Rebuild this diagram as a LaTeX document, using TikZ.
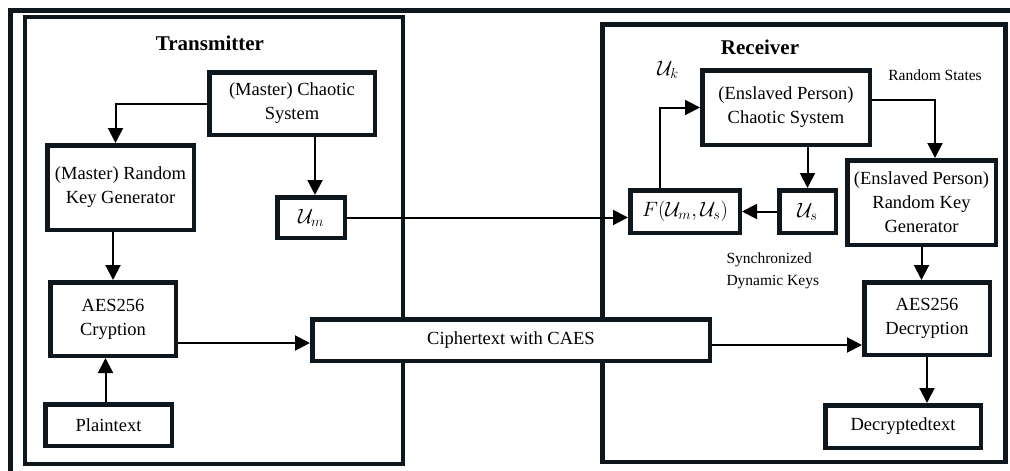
\documentclass[tikz,border=0pt]{standalone}
\usepackage{fontspec}
\setmainfont{Liberation Serif}
\usetikzlibrary{arrows.meta}
\definecolor{frm}{RGB}{14,22,30}
\begin{document}
\begin{tikzpicture}[x=1pt,y=-1pt,
  box/.style={draw=frm,line width=4.5pt,fill=white,align=center,inner sep=0pt,
    font=\fontsize{18.5}{24}\selectfont},
  mbox/.style={box,font=\fontsize{22.5}{24}\selectfont},
  frame/.style={draw=frm,line width=4.5pt},
  arr/.style={line width=2pt,-{Triangle[length=15pt,width=15pt]}},
  ttl/.style={font=\fontsize{21}{24}\selectfont\bfseries},
  lbl/.style={font=\fontsize{15.5}{22}\selectfont,align=left},
  ]
\useasboundingbox (0,0) rectangle (1010,471);
% outer frame (clipped at right and bottom)
\draw[frame,line width=5pt] (10,480) -- (10,10) -- (1020,10);
% transmitter and receiver frames
\draw[frame] (25,17) rectangle (403,464);
\draw[frame] (602.5,24.5) rectangle (1005.5,462);
\node[ttl] (tt) at (210,43) {Transmitter};
\node[ttl] (rt) at (760,47) {Receiver};
% transmitter nodes
\node[box,minimum width=165.5pt,minimum height=62.5pt] (mcs) at (292,103.5) {(Master) Chaotic\\System};
\node[box,minimum width=146.5pt,minimum height=84.5pt] (mrkg) at (120.5,187.5) {(Master) Random\\Key Generator};
\node[mbox,minimum width=67.5pt,minimum height=40.5pt] (um) at (311,217.5) {$\mathcal{U}_m$};
\node[box,minimum width=125.5pt,minimum height=73.5pt] (aes) at (113,319) {AES256\\Cryption};
\node[box,minimum width=126.5pt,minimum height=41.5pt] (pt) at (108.5,425) {Plaintext};
\node[box,minimum width=397.5pt,minimum height=41.5pt] (ct) at (511,340) {Ciphertext with CAES};
% receiver nodes
\node[box,minimum width=167.5pt,minimum height=74.5pt] (ecs) at (786,107.5) {(Enslaved Person)\\Chaotic System};
\node[mbox,minimum width=109.5pt,minimum height=42.5pt] (f) at (685,211.5) {$F(\mathcal{U}_m,\mathcal{U}_s)$};
\node[mbox,minimum width=56.5pt,minimum height=42.5pt] (us) at (807.5,211.5) {$\mathcal{U}_s$};
\node[box,minimum width=148.5pt,minimum height=84.5pt] (erkg) at (921.5,202.5) {(Enslaved Person)\\Random Key\\Generator};
\node[box,minimum width=125.5pt,minimum height=72.5pt] (dec) at (927,318.5) {AES256\\Decryption};
\node[box,minimum width=155.5pt,minimum height=42.5pt] (dt) at (903,426.5) {Decryptedtext};
% labels
\node[font=\fontsize{22.5}{24}\selectfont] (uk) at (668,70) {$\mathcal{U}_k$};
\node[lbl] (rs) at (935,75) {Random States};
\node[lbl,anchor=west] (sdk) at (723,271) {Synchronized\\Dynamic Keys};
% arrows transmitter
\draw[arr] (mcs.west) -| ([xshift=-5pt]mrkg.north);
\draw[arr] ([xshift=4pt]um.north |- mcs.south) -- ([xshift=4pt]um.north);
\draw[arr] (aes.north |- mrkg.south) -- (aes.north);
\draw[arr] ([xshift=-3pt]pt.north) -- ([xshift=-3pt]pt.north |- aes.south);
\draw[arr] ([yshift=-3pt]ct.west -| aes.east) -- ([yshift=-3pt]ct.west);
\draw[arr] (um.east) -- (um.east -| f.west);
% arrows receiver
\draw[arr] ([xshift=-25pt]f.north) |- (ecs.west);
\draw[arr] (us.north |- ecs.south) -- (us.north);
\draw[arr] (us.west) -- (f.east);
\draw[arr] ([yshift=7.5pt]ecs.east) -| ([xshift=13.5pt]erkg.north);
\draw[arr] (erkg.south) -- (erkg.south |- dec.north);
\draw[arr] ([yshift=-5pt]ct.east) -- ([yshift=-5pt]ct.east -| dec.west);
\draw[arr] (dec.south) -- (dec.south |- dt.north);
\end{tikzpicture}
\end{document}
